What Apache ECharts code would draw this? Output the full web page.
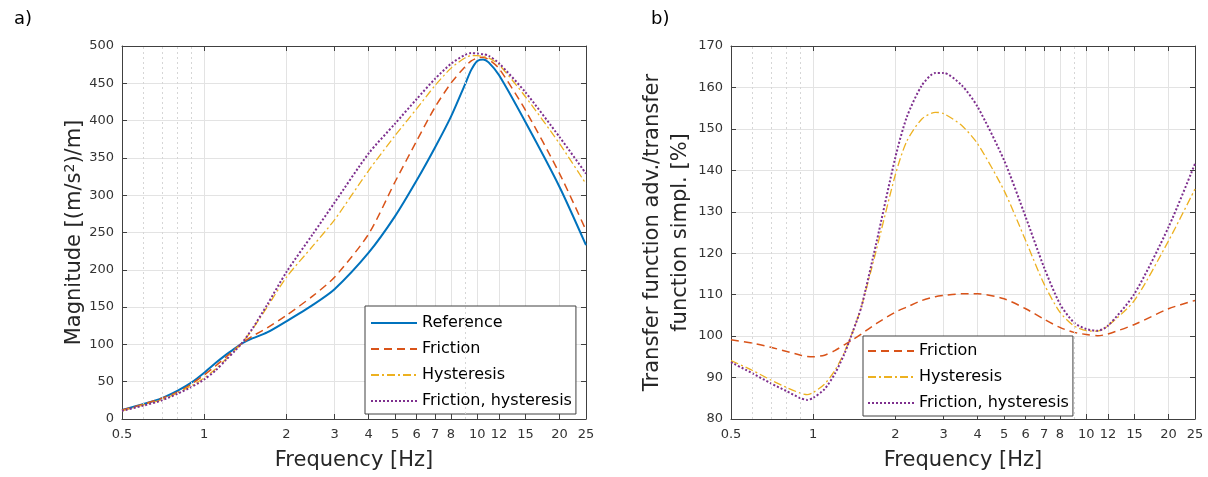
<!DOCTYPE html>
<html><head><meta charset="utf-8">
<script src="https://cdn.jsdelivr.net/npm/echarts@6/dist/echarts.min.js"></script>
<style>html,body{margin:0;padding:0;background:#fff}#c{width:1208px;height:477px}</style>
</head><body><div id="c"></div><script>
// ---- Panel a) magnitude ----
const freqA = [0.5, 0.6, 0.7, 0.8, 0.9, 1, 1.1, 1.2, 1.3, 1.37, 1.5, 1.7, 2, 2.5, 3, 4, 5, 6, 7, 8, 9, 9.5, 10, 10.5, 11, 12, 15, 20, 25];
const referenceA = [12, 20, 28, 38, 49, 62, 75, 86, 95, 101, 108, 116, 131, 153, 174, 223, 272, 320, 364, 405, 448, 468, 480, 482, 478, 461, 398, 311, 233];
const frictionA = [12, 20, 28, 36, 47, 59, 71, 83, 94, 101, 111, 122, 139, 165, 190, 248, 318, 373, 418, 450, 472, 480, 484, 485, 482, 470, 414, 329, 253];
const hysteresisA = [11, 19, 26, 35, 45, 55, 67, 80, 93, 101, 120, 150, 190, 232, 267, 333, 380, 416, 447, 470, 484, 487, 487, 486, 484, 475, 432, 369, 315];
const fricHystA = [11, 18, 25, 34, 43, 53, 65, 79, 92, 101, 121, 153, 197, 248, 290, 356, 396, 429, 456, 476, 488, 490.5, 490, 489, 487, 477, 438, 378, 329];
// ---- Panel b) ratio ----
const freqB = [0.5, 0.6, 0.7, 0.8, 0.9, 0.95, 1, 1.1, 1.2, 1.3, 1.4, 1.5, 1.7, 2, 2.2, 2.5, 2.8, 3, 3.5, 4, 5, 6, 7, 8, 9, 10, 11, 12, 15, 20, 25];
const frictionB = [99.1, 98.3, 97.3, 96.3, 95.4, 95.1, 95.0, 95.4, 96.5, 97.9, 99.2, 100.5, 103, 105.8, 107, 108.6, 109.5, 109.8, 110.2, 110.2, 109, 106.6, 104.1, 102.1, 100.9, 100.4, 100.1, 100.5, 102.8, 106.6, 108.6];
const hysteresisB = [94.1, 91.7, 89.4, 87.6, 86.2, 85.9, 86.4, 88.4, 91.7, 96.1, 101.3, 107, 120.6, 139, 147, 152.4, 154, 153.7, 150.8, 146.4, 135.1, 123, 112.6, 105.8, 102.5, 101.3, 101.2, 102.5, 108.6, 123, 135.5];
const fricHystB = [93.7, 91, 88.6, 86.7, 85, 84.6, 85.1, 87.2, 90.9, 95.7, 101.3, 107, 122.3, 143.2, 152.8, 160.5, 163.5, 163.5, 160.5, 155.3, 142.4, 128.7, 116.6, 107.8, 103.3, 101.7, 101.3, 102.5, 110.2, 126.3, 141.6];
// ---- ticks ----
const xTicks = [0.5, 1, 2, 3, 4, 5, 6, 7, 8, 10, 12, 15, 20, 25];
const xMinor = [0.6, 0.7, 0.8, 0.9, 9];

const FONT = 'DejaVu Sans';
const C = {ref: '#0072BD', fric: '#D95319', hyst: '#EDB120', fh: '#7E2F8E'};
const grids = [
  {left: 122, top: 46, width: 464, height: 373},
  {left: 731, top: 46, width: 464, height: 373}
];
function xAx(gi, pos, main) {
  return {
    type: 'log', logBase: 10, min: 0.5, max: 25, gridIndex: gi, position: pos,
    name: main ? 'Frequency [Hz]' : '', nameLocation: 'middle', nameGap: 31,
    nameTextStyle: {fontFamily: FONT, fontSize: 21, color: '#262626'},
    axisLine: {show: true, onZero: false, lineStyle: {color: '#404040', width: 1}},
    axisTick: {show: true, inside: true, length: 5, customValues: xTicks, lineStyle: {color: '#404040'}},
    axisLabel: {show: main, customValues: xTicks, margin: 9, fontFamily: FONT, fontSize: 13, color: '#333',
      formatter: v => String(Math.round(v * 10) / 10)},
    splitLine: {show: main, lineStyle: {color: '#e3e3e3', width: 1}},
    minorTick: {show: false}, minorSplitLine: {show: false}
  };
}
function yAx(gi, pos, main, min, max, step, name, gap, nts) {
  return {
    type: 'value', min: min, max: max, interval: step, gridIndex: gi, position: pos,
    name: main ? name : '', nameLocation: 'middle', nameGap: gap,
    nameTextStyle: nts,
    axisLine: {show: true, onZero: false, lineStyle: {color: '#404040', width: 1}},
    axisTick: {show: true, inside: true, length: 5, lineStyle: {color: '#404040'}},
    axisLabel: {show: main, margin: 8, fontFamily: FONT, fontSize: 13, color: '#333'},
    splitLine: {show: main, lineStyle: {color: '#e3e3e3', width: 1}}
  };
}
function line(name, xs, ys, color, type, width, xi, yi) {
  return {
    name: name, type: 'line', xAxisIndex: xi, yAxisIndex: yi, symbol: 'none', showSymbol: false,
    smooth: 0.25,
    lineStyle: {color: color, type: type, width: width, cap: 'butt'}, itemStyle: {color: color},
    data: xs.map((f, i) => [f, ys[i]]), z: 3
  };
}
function minorGrid(xi, yi) {
  return {
    type: 'line', xAxisIndex: xi, yAxisIndex: yi, data: [], silent: true, z: 1,
    markLine: {silent: true, symbol: 'none', animation: false, label: {show: false},
      lineStyle: {color: '#d6d6d6', type: [2, 3], width: 1},
      data: xMinor.map(v => ({xAxis: v}))}
  };
}
const legendBase = {
  orient: 'vertical', itemWidth: 46, itemHeight: 14, itemGap: 10, selectedMode: false,
  backgroundColor: '#fff', borderColor: '#404040', borderWidth: 1, borderRadius: 0,
  itemStyle: {opacity: 0},
  textStyle: {fontFamily: FONT, fontSize: 16, color: '#000'}
};
const option = {
  animation: false,
  backgroundColor: '#fff',
  title: [
    {text: 'a)', left: 9, top: 5, textStyle: {fontFamily: FONT, fontSize: 18, fontWeight: 'normal', color: '#000'}},
    {text: 'b)', left: 646, top: 5, textStyle: {fontFamily: FONT, fontSize: 18, fontWeight: 'normal', color: '#000'}}
  ],
  grid: grids,
  xAxis: [xAx(0, 'bottom', true), xAx(0, 'top', false), xAx(1, 'bottom', true), xAx(1, 'top', false)],
  yAxis: [
    yAx(0, 'left', true, 0, 500, 50, '{a|Magnitude [(m/s}{s|2}{a|)/m]}', 36,
      {fontFamily: FONT, fontSize: 21, color: '#262626',
       rich: {a: {fontFamily: FONT, fontSize: 21, color: '#262626'},
              s: {fontFamily: FONT, fontSize: 14, color: '#262626', verticalAlign: 'top', padding: [0, 0, 8, 0]}}}),
    yAx(0, 'right', false, 0, 500, 50, '', 0, {}),
    yAx(1, 'left', true, 80, 170, 10, 'Transfer function adv./transfer\nfunction simpl. [%]', 34,
      {fontFamily: FONT, fontSize: 21, color: '#262626', lineHeight: 28}),
    yAx(1, 'right', false, 80, 170, 10, '', 0, {})
  ],
  legend: [
    Object.assign({}, legendBase, {left: 365, top: 306, padding: [9, 4, 5, 5],
      data: ['Reference', 'Friction', 'Hysteresis', 'Friction, hysteresis']}),
    Object.assign({}, legendBase, {left: 863, top: 336, padding: [7, 4, 5, 4],
      data: ['Friction', 'Hysteresis', 'Friction, hysteresis']})
  ],
  series: [
    minorGrid(0, 0),
    minorGrid(2, 2),
    line('Reference', freqA, referenceA, C.ref, 'solid', 2, 0, 0),
    line('Friction', freqA, frictionA, C.fric, [8, 5], 1.5, 0, 0),
    line('Hysteresis', freqA, hysteresisA, C.hyst, [8, 3, 2, 3], 1.3, 0, 0),
    line('Friction, hysteresis', freqA, fricHystA, C.fh, [2, 2], 2, 0, 0),
    line('Friction', freqB, frictionB, C.fric, [8, 5], 1.5, 2, 2),
    line('Hysteresis', freqB, hysteresisB, C.hyst, [8, 3, 2, 3], 1.3, 2, 2),
    line('Friction, hysteresis', freqB, fricHystB, C.fh, [2, 2], 2, 2, 2)
  ]
};
const chart = echarts.init(document.getElementById('c'), null, {renderer: 'canvas'});
chart.setOption(option);
</script></body></html>
